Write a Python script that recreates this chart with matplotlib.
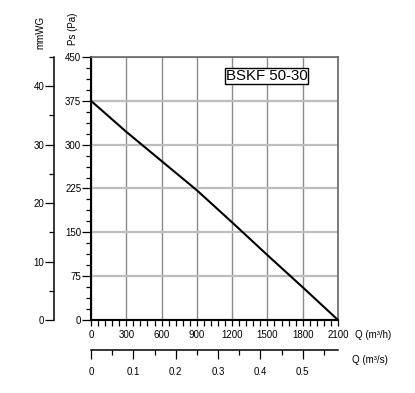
import matplotlib
matplotlib.use("Agg")
import matplotlib.pyplot as plt
from matplotlib.ticker import MultipleLocator, FixedLocator, NullLocator

plt.rcParams['font.family'] = ['Liberation Sans', 'DejaVu Sans']

# Data
flow_m3h = [0, 300, 600, 900, 1200, 1500, 1800, 2100]
pressure_pa = [375, 322, 272, 222, 167, 111, 56, 0]
x_ticks = [0, 300, 600, 900, 1200, 1500, 1800, 2100]
y_ticks = [0, 75, 150, 225, 300, 375, 450]
mmwg_ticks = [0, 10, 20, 30, 40]
mmwg_minor = [5, 15, 25, 35, 45]
m3s_ticks = [0, 0.1, 0.2, 0.3, 0.4, 0.5]
m3s_minor = [0.05, 0.15, 0.25, 0.35, 0.45, 0.55]
model_label = "BSKF 50-30"

W, H = 415, 393
fig = plt.figure(figsize=(W / 100, H / 100), dpi=100)

L, R, T, B = 91, 338, 57, 320
ax = fig.add_axes([L / W, 1 - B / H, (R - L) / W, (B - T) / H])
ax.plot(flow_m3h, pressure_pa, color='black', lw=1.5, zorder=3)
ax.set_xlim(0, 2100)
ax.set_ylim(0, 450)
ax.set_xticks(x_ticks)
ax.set_yticks(y_ticks)
ax.xaxis.set_minor_locator(MultipleLocator(60))
ax.yaxis.set_minor_locator(MultipleLocator(18.75))
ax.tick_params(axis='both', which='both', direction='out', labelsize=7, colors='black')
ax.tick_params(axis='y', which='major', length=6.5, width=0.9, pad=0.5)
ax.tick_params(axis='y', which='minor', length=3.6, width=0.9)
ax.tick_params(axis='x', which='major', length=4.5, width=0.9, pad=3)
ax.tick_params(axis='x', which='minor', length=4, width=0.9)
ax.xaxis.grid(True, which='major', color='#8c8c8c', lw=1.0)
ax.yaxis.grid(True, which='major', color='#bdbdbd', lw=1.6)
ax.set_axisbelow(True)
for s in ['left', 'bottom']:
    ax.spines[s].set_linewidth(1.5)
    ax.spines[s].set_color('black')
for s in ['top', 'right']:
    ax.spines[s].set_linewidth(1.2)
    ax.spines[s].set_color('#666666')

# mmWG axis (1 mmWG = 10 Pa on this chart)
axm = fig.add_axes([54 / W, 1 - B / H, 0.002, (B - T) / H])
axm.patch.set_visible(False)
axm.set_ylim(0, 45)
for s in ['top', 'right', 'bottom']:
    axm.spines[s].set_visible(False)
axm.spines['left'].set_linewidth(1.1)
axm.xaxis.set_major_locator(NullLocator())
axm.xaxis.set_minor_locator(NullLocator())
axm.yaxis.set_major_locator(FixedLocator(mmwg_ticks))
axm.yaxis.set_minor_locator(FixedLocator(mmwg_minor))
axm.tick_params(axis='y', which='major', direction='out', length=6.5, width=0.9, labelsize=7, pad=0.5)
axm.tick_params(axis='y', which='minor', direction='out', length=3.6, width=0.9)

# m3/s axis
axs = fig.add_axes([L / W, 1 - 350 / H, (R - L) / W, 0.002])
axs.patch.set_visible(False)
axs.set_xlim(0, 2100 / 3600)
for s in ['top', 'right', 'left']:
    axs.spines[s].set_visible(False)
axs.spines['bottom'].set_linewidth(1.1)
axs.yaxis.set_major_locator(NullLocator())
axs.yaxis.set_minor_locator(NullLocator())
axs.xaxis.set_major_locator(FixedLocator(m3s_ticks))
axs.set_xticklabels([('%g' % v) for v in m3s_ticks])
axs.xaxis.set_minor_locator(FixedLocator(m3s_minor))
axs.tick_params(axis='x', which='major', direction='out', length=6.5, width=0.9, labelsize=7, pad=6)
axs.tick_params(axis='x', which='minor', direction='out', length=3.5, width=0.9)


def ftext(x, y, s, **kw):
    fig.text(x / W, 1 - y / H, s, **kw)


ftext(40, 32, 'mmWG', rotation=90, ha='center', va='center', fontsize=7)
ftext(72.5, 29, 'Ps (Pa)', rotation=90, ha='center', va='center', fontsize=7)
ftext(355, 335, 'Q (m³/h)', ha='left', va='center', fontsize=7)
ftext(352, 360, 'Q (m³/s)', ha='left', va='center', fontsize=7)
ftext(266.5, 76, model_label, ha='center', va='center', fontsize=10.8,
      bbox=dict(facecolor='white', edgecolor='black', boxstyle='square,pad=0.06', lw=1))

fig.savefig('out.png', dpi=100)
